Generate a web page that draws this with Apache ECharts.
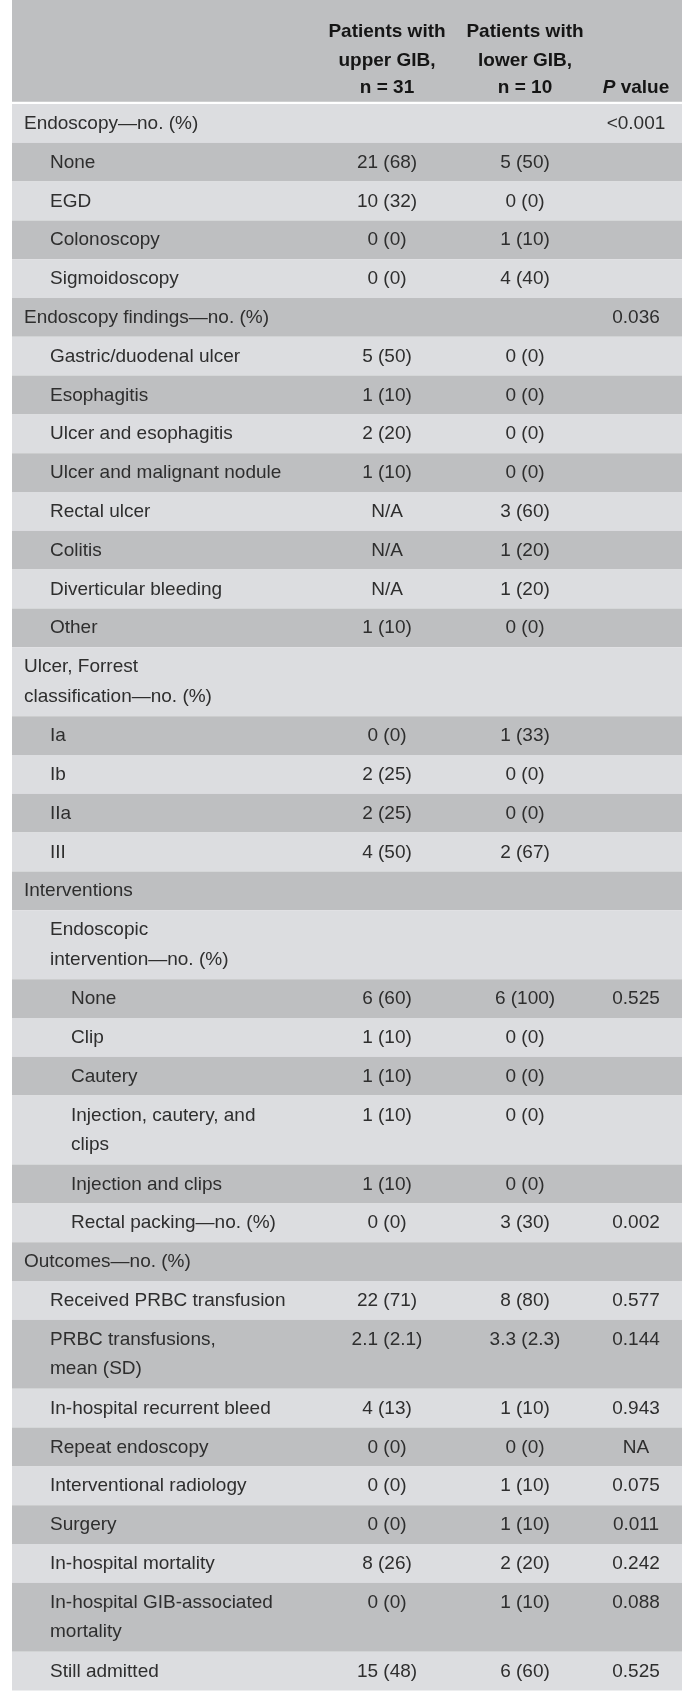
<!DOCTYPE html>
<html>
<head>
<meta charset="utf-8">
<script src="https://cdn.jsdelivr.net/npm/echarts@6/dist/echarts.min.js"></script>
<style>
html,body{margin:0;padding:0;background:#ffffff;}
#chart{width:689px;height:1703px;}
</style>
</head>
<body>
<div id="chart"></div>
<script>
// ---------- DATA ----------
const headerUpper = ['Patients with', 'upper GIB,', 'n = 31'];
const headerLower = ['Patients with', 'lower GIB,', 'n = 10'];
const headerPItalic = 'P';
const headerPRest = ' value';

const rowLabels = [
  'Endoscopy\u2014no. (%)',
  'None',
  'EGD',
  'Colonoscopy',
  'Sigmoidoscopy',
  'Endoscopy findings\u2014no. (%)',
  'Gastric/duodenal ulcer',
  'Esophagitis',
  'Ulcer and esophagitis',
  'Ulcer and malignant nodule',
  'Rectal ulcer',
  'Colitis',
  'Diverticular bleeding',
  'Other',
  'Ulcer, Forrest\nclassification\u2014no. (%)',
  'Ia',
  'Ib',
  'IIa',
  'III',
  'Interventions',
  'Endoscopic\nintervention\u2014no. (%)',
  'None',
  'Clip',
  'Cautery',
  'Injection, cautery, and\nclips',
  'Injection and clips',
  'Rectal packing\u2014no. (%)',
  'Outcomes\u2014no. (%)',
  'Received PRBC transfusion',
  'PRBC transfusions,\nmean (SD)',
  'In-hospital recurrent bleed',
  'Repeat endoscopy',
  'Interventional radiology',
  'Surgery',
  'In-hospital mortality',
  'In-hospital GIB-associated\nmortality',
  'Still admitted'
];
const indentLevels = [0,1,1,1,1,0,1,1,1,1,1,1,1,1,0,1,1,1,1,0,1,2,2,2,2,2,2,0,1,1,1,1,1,1,1,1,1];
const upperGIB = ['', '21 (68)', '10 (32)', '0 (0)', '0 (0)', '', '5 (50)', '1 (10)', '2 (20)', '1 (10)', 'N/A', 'N/A', 'N/A', '1 (10)', '', '0 (0)', '2 (25)', '2 (25)', '4 (50)', '', '', '6 (60)', '1 (10)', '1 (10)', '1 (10)', '1 (10)', '0 (0)', '', '22 (71)', '2.1 (2.1)', '4 (13)', '0 (0)', '0 (0)', '0 (0)', '8 (26)', '0 (0)', '15 (48)'];
const lowerGIB = ['', '5 (50)', '0 (0)', '1 (10)', '4 (40)', '', '0 (0)', '0 (0)', '0 (0)', '0 (0)', '3 (60)', '1 (20)', '1 (20)', '0 (0)', '', '1 (33)', '0 (0)', '0 (0)', '2 (67)', '', '', '6 (100)', '0 (0)', '0 (0)', '0 (0)', '0 (0)', '3 (30)', '', '8 (80)', '3.3 (2.3)', '1 (10)', '0 (0)', '1 (10)', '1 (10)', '2 (20)', '1 (10)', '6 (60)'];
const pValues = ['<0.001', '', '', '', '', '0.036', '', '', '', '', '', '', '', '', '', '', '', '', '', '', '', '0.525', '', '', '', '', '0.002', '', '0.577', '0.144', '0.943', 'NA', '0.075', '0.011', '0.242', '0.088', '0.525'];

// ---------- LAYOUT / STYLE ----------
const W = 689, H = 1703;
const L = {
  left: 12, right: 682,
  headerTop: 0, headerBottom: 101.7,
  headerLines: [32, 60.3, 87.6],
  bodyTop: 104,
  singleH: 38.8, extraLineH: 30.2,
  firstLine: 19.8, lineGap: 29.5,
  indent: [24, 50, 71],
  cols: [387, 525, 636]
};
const C = { dark: '#bebfc1', light: '#dcdde0', text: '#2e2e2e', head: '#151515' };
const FF = '"Liberation Sans", Arial, Helvetica, sans-serif';
const bodyFont = '19px ' + FF;
const headFont = 'bold 19px ' + FF;

const rowLines = rowLabels.map(s => s.split('\n'));
const rowTops = [];
const rowHeights = [];
let acc = L.bodyTop;
rowLines.forEach(ls => {
  const h = L.singleH + (ls.length - 1) * L.extraLineH;
  rowTops.push(acc); rowHeights.push(h); acc += h;
});

function txt(api, x, y, text, font, fill, align) {
  const p = api.coord([x, y]);
  return {
    type: 'text',
    style: {
      text: text, x: p[0], y: p[1], font: font, fill: fill,
      align: align, verticalAlign: 'middle',
      textAlign: align, textVerticalAlign: 'middle'
    }
  };
}

function renderRow(params, api) {
  const i = api.value(0);
  const top = rowTops[i], h = rowHeights[i];
  const p0 = api.coord([L.left, top]);
  const p1 = api.coord([L.right, top + h]);
  const children = [{
    type: 'rect',
    shape: { x: p0[0], y: p0[1], width: p1[0] - p0[0], height: p1[1] - p0[1] },
    style: { fill: i % 2 === 0 ? C.light : C.dark }
  }];
  rowLines[i].forEach((line, k) => {
    children.push(txt(api, L.indent[indentLevels[i]], top + L.firstLine + k * L.lineGap, line, bodyFont, C.text, 'left'));
  });
  const yv = top + L.firstLine;
  [upperGIB[i], lowerGIB[i], pValues[i]].forEach((v, c) => {
    if (v) children.push(txt(api, L.cols[c], yv, v, bodyFont, C.text, 'center'));
  });
  return { type: 'group', children: children };
}

function renderHeader(params, api) {
  const p0 = api.coord([L.left, L.headerTop]);
  const p1 = api.coord([L.right, L.headerBottom]);
  const children = [{
    type: 'rect',
    shape: { x: p0[0], y: p0[1], width: p1[0] - p0[0], height: p1[1] - p0[1] },
    style: { fill: C.dark }
  }];
  headerUpper.forEach((t, k) => children.push(txt(api, L.cols[0], L.headerLines[k], t, headFont, C.head, 'center')));
  headerLower.forEach((t, k) => children.push(txt(api, L.cols[1], L.headerLines[k], t, headFont, C.head, 'center')));
  const pp = api.coord([L.cols[2], L.headerLines[2]]);
  children.push({
    type: 'text',
    style: {
      text: '{i|' + headerPItalic + '}{b|' + headerPRest + '}',
      x: pp[0], y: pp[1], align: 'center', verticalAlign: 'middle',
      textAlign: 'center', textVerticalAlign: 'middle',
      font: headFont, fill: C.head,
      rich: {
        i: { font: 'italic bold 19px ' + FF, fill: C.head },
        b: { font: headFont, fill: C.head }
      }
    }
  });
  return { type: 'group', children: children };
}

const chart = echarts.init(document.getElementById('chart'), null, { renderer: 'canvas', devicePixelRatio: 1 });
chart.setOption({
  animation: false,
  backgroundColor: '#ffffff',
  grid: { left: 0, right: 0, top: 0, bottom: 0 },
  xAxis: { type: 'value', min: 0, max: W, show: false },
  yAxis: { type: 'value', min: 0, max: H, inverse: true, show: false },
  series: [
    { type: 'custom', name: 'header', data: [[0]], renderItem: renderHeader, silent: true },
    { type: 'custom', name: 'rows', data: rowLabels.map((_, i) => [i]), renderItem: renderRow, silent: true }
  ]
});
</script>
</body>
</html>
